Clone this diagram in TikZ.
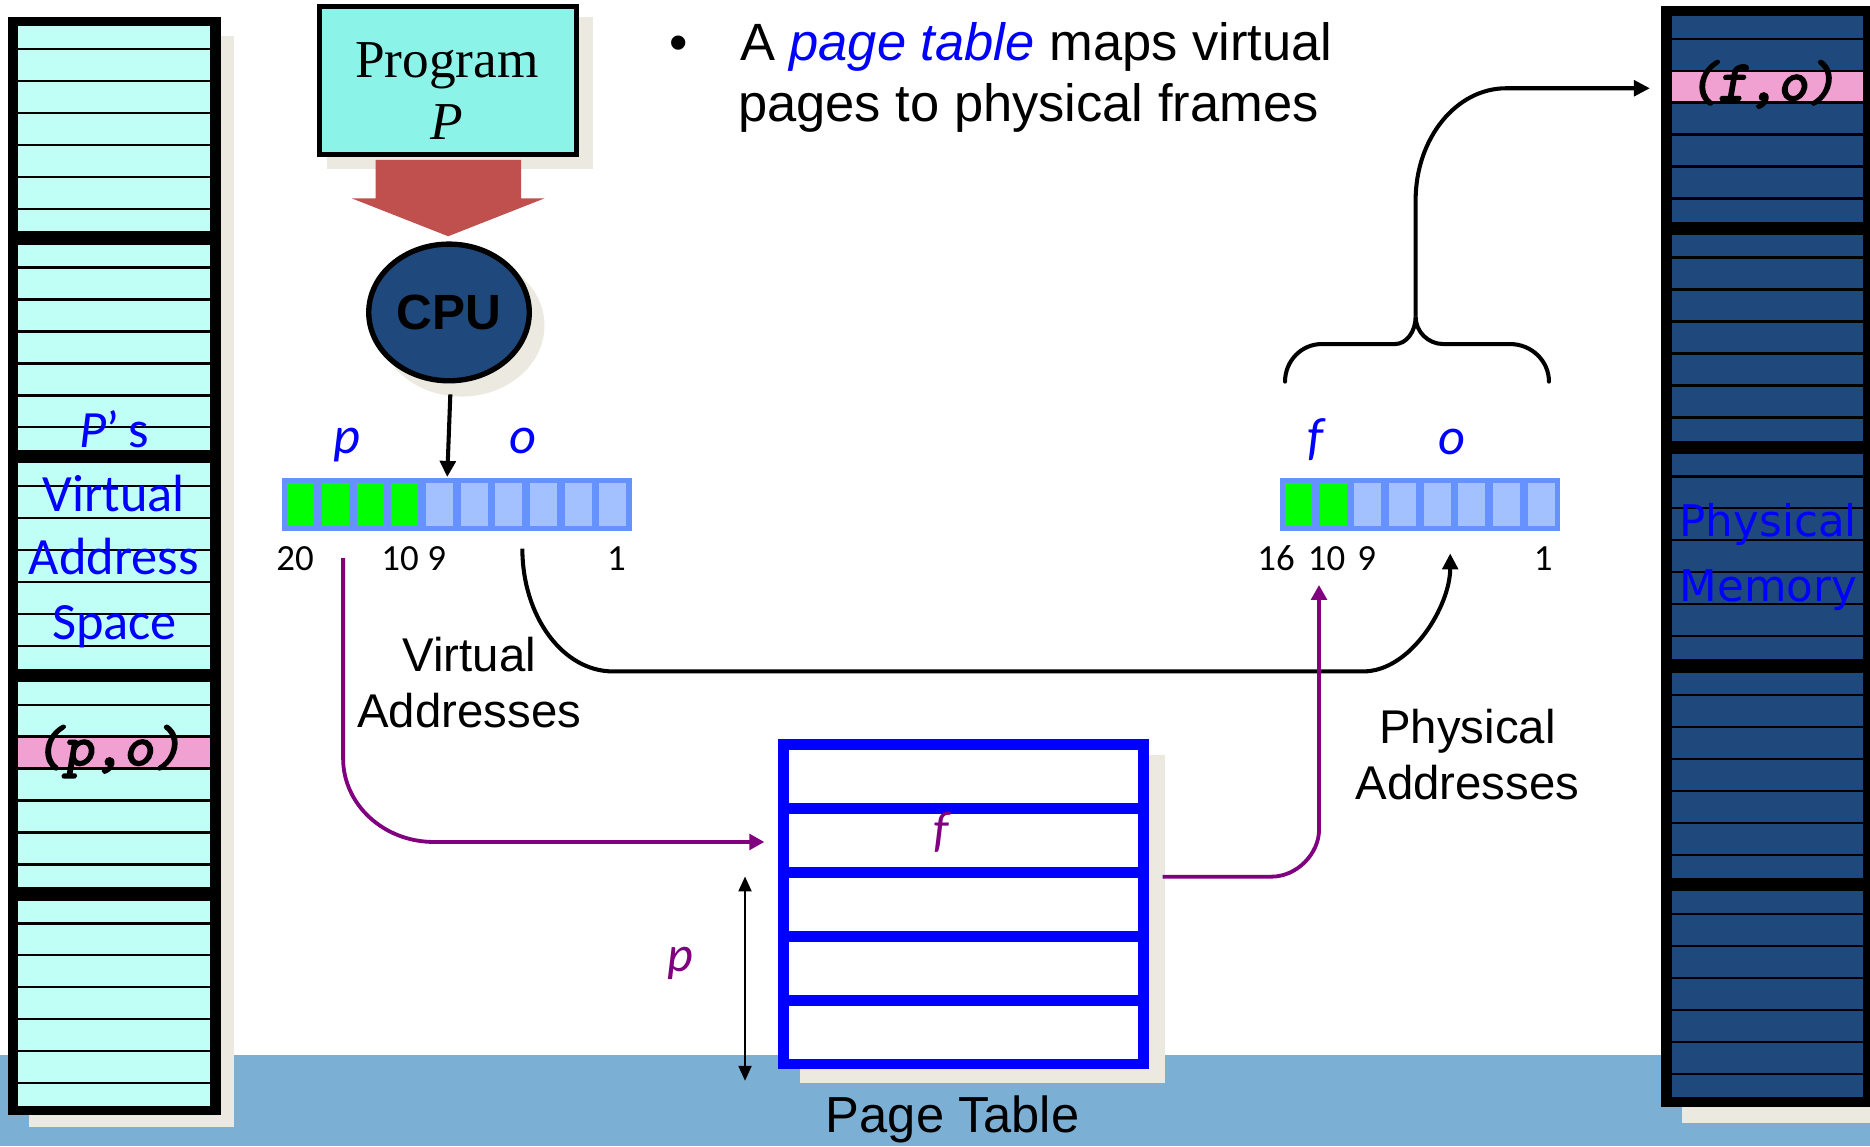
\documentclass[tikz,border=0pt]{standalone}
\usepackage{fontspec}
\setmainfont{Liberation Sans}
\newfontfamily\calfont{Carlito}
\newfontfamily\serffont{Liberation Serif}
\newfontfamily\djfont{DejaVu Sans}
\newfontfamily\cmono{lmmonoslant10-regular.otf}[FakeBold=3.2]
\usetikzlibrary{arrows.meta,shapes.geometric}
\definecolor{cyanrow}{RGB}{191,255,246}
\definecolor{progfill}{RGB}{140,243,233}
\definecolor{redarrow}{RGB}{192,80,77}
\definecolor{cpufill}{RGB}{31,73,125}
\definecolor{shadowc}{RGB}{236,233,224}
\definecolor{band}{RGB}{123,175,212}
\definecolor{regblue}{RGB}{102,146,255}
\definecolor{reglight}{RGB}{164,193,255}
\definecolor{bitgreen}{RGB}{0,255,0}
\definecolor{ptblue}{RGB}{0,0,255}
\definecolor{purp}{RGB}{128,0,128}
\definecolor{pinkrow}{RGB}{241,160,210}
\definecolor{darkrow}{RGB}{31,73,125}
\tikzset{
  txt/.style={inner sep=0pt, outer sep=0pt, anchor=base},
  toptext/.style={txt, font=\fontsize{12.52pt}{14.5pt}\selectfont},
  lbl/.style={txt, font=\fontsize{11.3pt}{13.4pt}\selectfont},
  bitlbl/.style={txt, font=\calfont\itshape\fontsize{12.5pt}{15pt}\selectfont, text=ptblue},
  bitnum/.style={txt, font=\calfont\fontsize{8.8pt}{10pt}\selectfont},
  vaslbl/.style={txt, font=\calfont\fontsize{12.5pt}{15pt}\selectfont, text=ptblue},
  memlbl/.style={txt, font=\djfont\fontsize{10.4pt}{12pt}\selectfont, text=ptblue},
  pairlbl/.style={txt, font=\cmono\bfseries\fontsize{13.6pt}{15pt}\selectfont},
  ptlbl/.style={txt, font=\calfont\itshape\fontsize{11.95pt}{14pt}\selectfont, text=purp},
  rowline/.style={line width=0.2mm, black},
  blk/.style={line width=0.34mm, black, -{Triangle[length=1.35mm,width=1.3mm]}},
  purpline/.style={line width=0.32mm, draw=purp, -{Triangle[length=1.25mm,width=1.3mm]}},
}
\begin{document}
\begin{tikzpicture}[x=0.1mm,y=-0.1mm]
\useasboundingbox (0,0) rectangle (1568,961);
\clip (0,0) rectangle (1568,961);
\fill[white] (0,0) rectangle (1568,961);
\fill[band] (0,885) rectangle (1568,961);

% ---------- left column: virtual address space ----------
\fill[shadowc] (24,30) rectangle (196.5,945);
\fill[black] (6.4,14) rectangle (185.3,935.2);
\foreach \t in {22,205.3,388.6,571.9,755.2}
  \fill[cyanrow] (15.4,\t) rectangle (176.3,\t+172);
\fill[pinkrow] (15.4,571.9+45.8) rectangle (176.3,571.9+72.6);
\foreach \t in {22,205.3,388.6,571.9,755.2}
  \foreach \d in {19,45.8,72.6,99.4,126.2,153}
    \draw[rowline] (15.4,\t+\d) -- (176.3,\t+\d);
\node[vaslbl] (vas1) at (96,375) {\textit{P}’\,s};
\node[vaslbl] (vas2) at (95.5,429) {Virtual};
\node[vaslbl] (vas3) at (95.5,482) {Address};
\node[vaslbl] (vas4) at (96,536) {Space};
\node[pairlbl] (vpair) at (91,641.5) {(p,o)};

% ---------- right column: physical memory ----------
\fill[shadowc] (1410,20) rectangle (1575,941.7);
\fill[black] (1392.8,4.8) rectangle (1575,928.3);
\foreach \t in {13.5,197,380.4,563.9,747.3}
  \fill[darkrow] (1401.7,\t) rectangle (1562.4,\t+172.5);
\fill[pinkrow] (1401.7,13.5+45.8) rectangle (1562.4,13.5+72.6);
\foreach \t in {13.5,197,380.4,563.9,747.3}
  \foreach \d in {19,45.8,72.6,99.4,126.2,153}
    \draw[rowline] (1401.7,\t+\d) -- (1562.4,\t+\d);
\node[pairlbl] (ppair) at (1478,84) {(f,o)};
\node[memlbl] (mem1) at (1482.7,450) {Physical};
\node[memlbl] (mem2) at (1482.7,504) {Memory};

% ---------- program and CPU ----------
\fill[shadowc] (274,14) rectangle (497,142);
\node[draw, line width=0.42mm, fill=progfill, minimum width=21.54mm, minimum height=12.44mm, inner sep=0pt] (prog) at (375.8,67.3) {};
\node[txt, font=\serffont\fontsize{12.72pt}{15pt}\selectfont] (progt1) at (374.7,65) {Program};
\node[txt, font=\serffont\itshape\fontsize{12.72pt}{15pt}\selectfont] (progt2) at (375,117) {P};
\fill[redarrow] (315,134) -- (437,134) -- (437,166.3) -- (456.7,166.3) -- (375.8,198.1) -- (294.9,166.3) -- (315,166.3) -- cycle;
\fill[shadowc] (387,273) ellipse [x radius=6.95mm, y radius=5.95mm];
\node[ellipse, draw, line width=0.45mm, fill=cpufill, minimum width=13.46mm, minimum height=11.46mm, inner sep=0pt, font=\bfseries\fontsize{11.81pt}{14pt}\selectfont] (cpu) at (376.5,262) {CPU};

% ---------- top text ----------
\node[toptext] (bul) at (569,51) {•};
\node[toptext, anchor=base west] (line1) at (620.5,51) {A \textcolor{ptblue}{\textit{page table}} maps virtual};
\node[toptext, anchor=base west] (line2) at (619,102) {pages to physical frames};

% ---------- virtual address register ----------
\fill[regblue] (236.7,400.5) rectangle (529.7,445);
\foreach \i in {0,...,3}
  \fill[bitgreen] (240.9+29.07*\i,404.7) rectangle (263.5+29.07*\i,441);
\foreach \i in {4,...,9}
  \fill[reglight] (240.9+29.07*\i,404.7) rectangle (263.5+29.07*\i,441);
\node[bitlbl] (vp) at (290.7,380) {p};
\node[bitlbl] (vo) at (438.8,380) {o};
\node[bitnum] (n20) at (247.4,478) {20};
\node[bitnum] (n10a) at (335.4,478) {10};
\node[bitnum] (n9a) at (366.2,478) {9};
\node[bitnum] (n1a) at (517,478) {1};

% ---------- physical address register ----------
\fill[regblue] (1073.3,400.5) rectangle (1308,445);
\foreach \i in {0,1}
  \fill[bitgreen] (1077.5+29.07*\i,404.7) rectangle (1100.1+29.07*\i,441);
\foreach \i in {2,...,7}
  \fill[reglight] (1077.5+29.07*\i,404.7) rectangle (1100.1+29.07*\i,441);
\node[bitlbl] (pf) at (1102.7,381.5) {f};
\node[bitlbl] (po) at (1217.2,381.5) {o};
\node[bitnum] (n16) at (1070,478) {16};
\node[bitnum] (n10b) at (1112.4,478) {10};
\node[bitnum] (n9b) at (1146,478) {9};
\node[bitnum] (n1b) at (1294,478) {1};

% ---------- labels ----------
\node[lbl] (va1) at (393.6,563.4) {Virtual};
\node[lbl] (va2) at (393.4,610.2) {Addresses};
\node[lbl] (pa1) at (1230.5,623.3) {Physical};
\node[lbl] (pa2) at (1230.5,670.8) {Addresses};

% ---------- page table ----------
\fill[shadowc] (670.5,633) rectangle (976.6,908.4);
\node[draw=ptblue, line width=0.9mm, fill=white, minimum width=30.19mm, minimum height=26.78mm, inner sep=0pt] (pt) at (808.05,758.3) {};
\foreach \y in {678,731.6,785.1,838.7}
  \draw[ptblue, line width=0.9mm] (657.1,\y) -- (959,\y);
\node[ptlbl] (ptf) at (789.5,710) {f};
\node[ptlbl] (ptp) at (570.5,814.8) {p};
\node[txt, font=\fontsize{12.09pt}{14pt}\selectfont] (ptname) at (798.8,950) {Page Table};

% ---------- connectors ----------
\coordinate (cpuout) at (377.6,330.7);
\coordinate (vregin) at (375,400);
\draw[blk] (cpuout) -- (vregin);

\coordinate (vofs) at (438,460);
\coordinate (pofs) at (1216,464);
\draw[blk] (vofs) .. controls (438,517) and (472,563) .. (514,563) -- (1143,563) .. controls (1183,563) and (1216,508) .. (pofs);

\coordinate (vpage) at (287.7,468);
\coordinate (ptin) at (640.9,706);
\draw[purpline] (vpage) -- (287.7,636) .. controls (287.7,674.6) and (321.8,706) .. (363.8,706) -- (ptin);

\coordinate (ptout) at (974.9,735.1);
\coordinate (pframe) at (1106,490.5);
\draw[purpline] (ptout) -- (1066,735.1) .. controls (1088,735.1) and (1106,715.2) .. (1106,696) -- (pframe);

\coordinate (idxtop) at (624.7,735);
\coordinate (idxbot) at (624.7,906.2);
\draw[line width=0.15mm, {Triangle[length=1.25mm,width=1.1mm]}-{Triangle[length=1.25mm,width=1.1mm]}] (idxtop) -- (idxbot);

\coordinate (bcusp) at (1187,265.5);
\coordinate (pmrow) at (1383.5,74);
\draw[line width=0.34mm, line cap=round] (1077.5,320) .. controls (1077.5,302.6) and (1091.3,288.5) .. (1108.2,288.5) -- (1169.7,288.5) .. controls (1179.2,288.5) and (1187,278.2) .. (bcusp) .. controls (1187,278.2) and (1197.5,288.5) .. (1210.2,288.5) -- (1266.2,288.5) .. controls (1284.2,288.5) and (1298.8,302.6) .. (1298.8,320);
\draw[blk] (bcusp) -- (1187,168) .. controls (1187,116) and (1221,74) .. (1263,74) -- (pmrow);
\end{tikzpicture}
\end{document}
